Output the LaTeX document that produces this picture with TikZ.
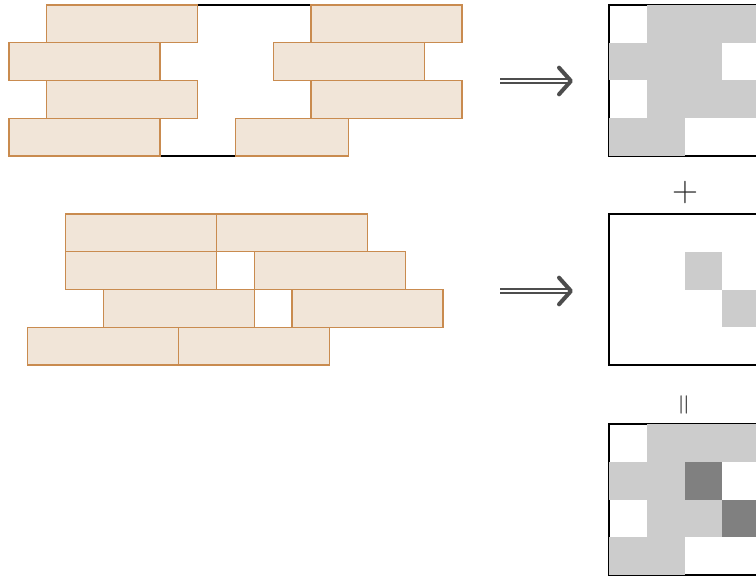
\documentclass[tikz,border=0pt]{standalone}
\definecolor{brickfill}{HTML}{F1E5D8}
\definecolor{brickline}{HTML}{C98B4F}
\definecolor{lightcell}{HTML}{CCCCCC}
\definecolor{darkcell}{HTML}{808080}
\definecolor{arrowgray}{HTML}{4D4D4D}
\begin{document}
\begin{tikzpicture}[x=0.75pt,y=-0.75pt,
  brick/.style={fill=brickfill,draw=brickline,line width=0.8pt},
  frame/.style={draw=black,line width=1.6pt},
  light/.style={fill=lightcell},
  dark/.style={fill=darkcell},
  dbl/.style={draw=arrowgray,line width=1.6pt,double=white,double distance=1.6pt},
  chev/.style={draw=arrowgray,line width=3pt,line cap=round,line join=round},
  sign/.style={inner sep=0pt,text=black!85}]
\def\u{37.75}
\useasboundingbox (0,0) rectangle (756,581);
% ---------- top-left group ----------
\begin{scope}[shift={(160,5)}]
  \draw[frame] (0,0) rectangle (4*\u,4*\u);
  \foreach \r/\a/\b in {0/-3/1,0/4/8,1/-4/0,1/3/7,2/-3/1,2/4/8,3/-4/0,3/2/5}
    \path[brick] ({\a*\u},{\r*\u}) rectangle ({\b*\u},{(\r+1)*\u});
\end{scope}
% ---------- middle-left group ----------
\begin{scope}[shift={(141,214)}]
  \draw[frame] (0,0) rectangle (4*\u,4*\u);
  \foreach \r/\a/\b in {0/-2/2,0/2/6,1/-2/2,1/3/7,2/-1/3,2/4/8,3/-3/1,3/1/5}
    \path[brick] ({\a*\u},{\r*\u}) rectangle ({\b*\u},{(\r+1)*\u});
\end{scope}
% ---------- arrows ----------
\foreach \n/\y in {1/81,2/291}{
  \coordinate (s\n) at (500,\y);
  \coordinate (t\n) at (571,\y);
  \draw[dbl] (s\n) -- ([xshift=-2.5]t\n);
  \draw[chev] ([xshift=-9,yshift=-10]t\n) -- (t\n) -- ([xshift=-9,yshift=10]t\n);
}
% ---------- right grids ----------
\begin{scope}[shift={(609,5)}]
  \draw[frame] (0,0) rectangle (4*\u,4*\u);
  \foreach \r/\c in {0/1,0/2,0/3,1/0,1/1,1/2,2/1,2/2,2/3,3/0,3/1}
    \path[light] ({\c*\u},{\r*\u}) rectangle ({(\c+1)*\u},{(\r+1)*\u});
\end{scope}
\node[sign,font=\fontsize{27}{27}\selectfont] (plus) at (685,193) {+};
\begin{scope}[shift={(609,214)}]
  \draw[frame] (0,0) rectangle (4*\u,4*\u);
  \foreach \r/\c in {1/2,2/3}
    \path[light] ({\c*\u},{\r*\u}) rectangle ({(\c+1)*\u},{(\r+1)*\u});
\end{scope}
\node[sign,rotate=90,font=\fontsize{22}{22}\selectfont] (eq) at (686.5,404.5) {=};
\begin{scope}[shift={(609,424)}]
  \draw[frame] (0,0) rectangle (4*\u,4*\u);
  \foreach \r/\c in {0/1,0/2,0/3,1/0,1/1,2/1,2/2,3/0,3/1}
    \path[light] ({\c*\u},{\r*\u}) rectangle ({(\c+1)*\u},{(\r+1)*\u});
  \foreach \r/\c in {1/2,2/3}
    \path[dark] ({\c*\u},{\r*\u}) rectangle ({(\c+1)*\u},{(\r+1)*\u});
\end{scope}
\end{tikzpicture}
\end{document}
